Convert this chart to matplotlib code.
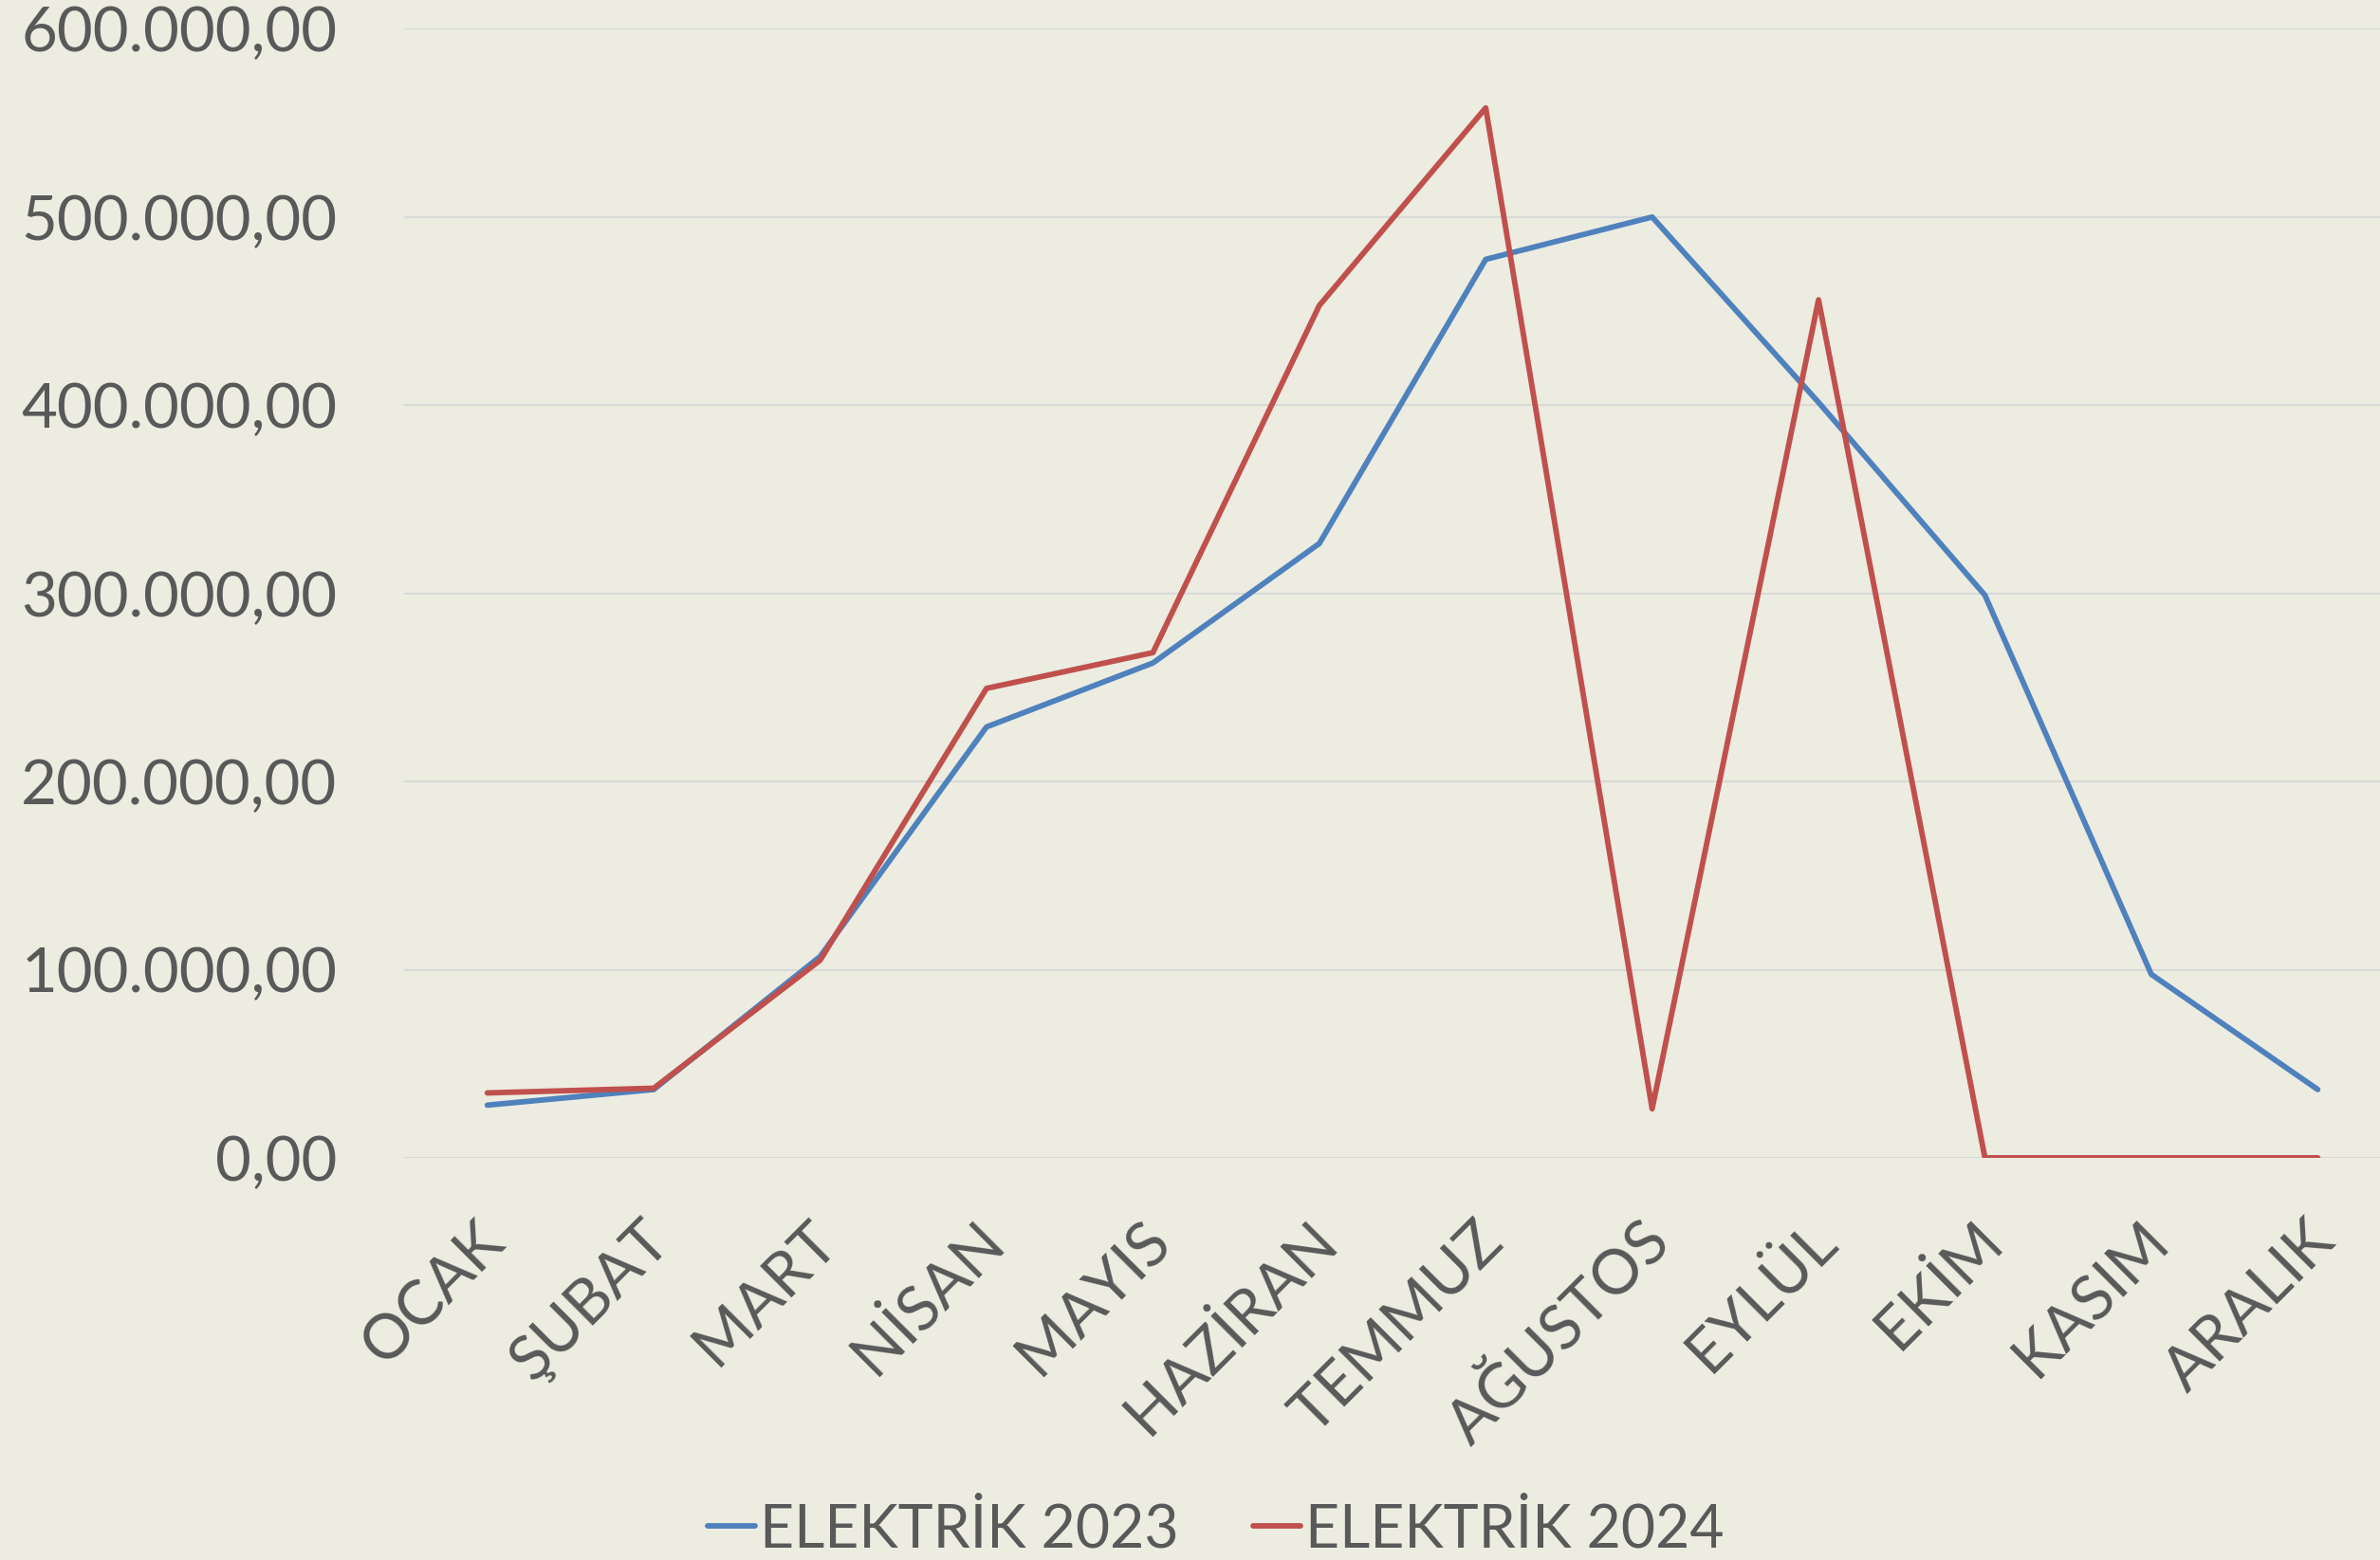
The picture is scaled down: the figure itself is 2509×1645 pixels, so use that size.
import matplotlib
matplotlib.use("Agg")
import matplotlib.pyplot as plt
from matplotlib.ticker import FuncFormatter, MultipleLocator
from matplotlib.transforms import ScaledTranslation

months = ["OCAK", "ŞUBAT", "MART", "NİSAN", "MAYIS", "HAZİRAN", "TEMMUZ",
          "AĞUSTOS", "EYLÜL", "EKİM", "KASIM", "ARALIK"]
elektrik_2023 = [28000, 36300, 107000, 229000, 263000, 326500, 477500,
                 500000, 401500, 299000, 97500, 36300]
elektrik_2024 = [34500, 37000, 105000, 249500, 268500, 453000, 558000,
                 26000, 456000, 0, 0, 0]
series_names = ["ELEKTRİK 2023", "ELEKTRİK 2024"]

bg = "#ECECE1"
txt = "#595959"
plt.rcParams['font.family'] = ['Lato', 'DejaVu Sans']

fig = plt.figure(figsize=(25.09, 16.45), dpi=100, facecolor=bg)
ax = fig.add_axes([0.1698, 0.2578, 0.839, 0.7237], facecolor=bg)

x = list(range(len(months)))
ax.plot(x, elektrik_2023, color="#4F81BD", lw=4.2, solid_joinstyle="round",
        solid_capstyle="round", label=series_names[0], zorder=3)
ax.plot(x, elektrik_2024, color="#C0504D", lw=4.2, solid_joinstyle="round",
        solid_capstyle="round", label=series_names[1], zorder=3)

ax.set_xlim(-0.5, len(months) - 0.5)
ax.set_ylim(0, 600000)
ax.yaxis.set_major_locator(MultipleLocator(100000))

def tr_fmt(v, pos):
    s = f"{v:,.2f}"
    return s.replace(",", "X").replace(".", ",").replace("X", ".")
ax.yaxis.set_major_formatter(FuncFormatter(tr_fmt))

ax.grid(axis="y", color="#D9D9D9", lw=1.5, zorder=0)
for s in ax.spines.values():
    s.set_visible(False)
ax.tick_params(axis="both", length=0, colors=txt, labelsize=47)
ax.tick_params(axis="y", pad=51)
ax.set_xticks(x)
ax.set_xticklabels(months, rotation=45, ha="right", va="center",
                   rotation_mode="anchor")
ax.tick_params(axis="x", pad=56)
off = ScaledTranslation(8 / 100, 0, fig.dpi_scale_trans)
for lbl in ax.get_xticklabels():
    lbl.set_transform(lbl.get_transform() + off)

leg = fig.legend(loc="center", bbox_to_anchor=(0.511, 0.0195), ncol=2, frameon=False,
                 fontsize=45, handlelength=0.8, handletextpad=0.08,
                 columnspacing=1.25, labelcolor=txt)

fig.savefig("out.png", dpi=100, facecolor=bg)
